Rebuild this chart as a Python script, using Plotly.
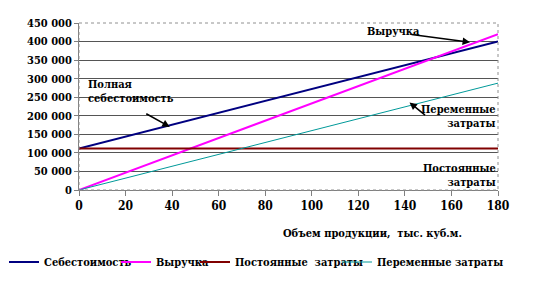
import plotly.graph_objects as go

volume = [0, 180]
cost_total = [112000, 400000]
revenue = [0, 420000]
fixed_costs = [112000, 112000]
variable_costs = [0, 288000]

x_ticks = [0, 20, 40, 60, 80, 100, 120, 140, 160, 180]
y_ticks = [0, 50000, 100000, 150000, 200000, 250000, 300000, 350000, 400000, 450000]
y_labels = ["0", "50 000", "100 000", "150 000", "200 000", "250 000", "300 000", "350 000", "400 000", "450 000"]

FONT = "DejaVu Serif Condensed, DejaVu Serif"
SIZE = 11
fig = go.Figure()
fig.add_trace(go.Scatter(x=volume, y=cost_total, mode="lines", name="Себестоимость",
                         line=dict(color="#000080", width=2), legend="legend"))
fig.add_trace(go.Scatter(x=volume, y=revenue, mode="lines", name="Выручка",
                         line=dict(color="#FF00FF", width=2), legend="legend2"))
fig.add_trace(go.Scatter(x=volume, y=fixed_costs, mode="lines", name="Постоянные  затраты",
                         line=dict(color="#800000", width=2), legend="legend3"))
fig.add_trace(go.Scatter(x=volume, y=variable_costs, mode="lines", name="Переменные затраты",
                         line=dict(color="#009999", width=1), legend="legend4"))

ann_font = dict(family=FONT, size=SIZE, color="black", weight="bold")
annotations = [
    dict(x=168, y=398000, ax=-60, ay=-8, text="", showarrow=True, arrowhead=2, arrowsize=1, arrowwidth=1.5, arrowcolor="black"),
    dict(x=135, y=427000, text="Выручка", showarrow=False, xanchor="center", yanchor="middle", font=ann_font),
    dict(x=39, y=170000, ax=-25, ay=-14, text="", showarrow=True, arrowhead=2, arrowsize=1, arrowwidth=1.5, arrowcolor="black"),
    dict(x=3, y=265000, text="Полная<br>себестоимость", showarrow=False, xanchor="left", yanchor="middle", align="left", font=ann_font),
    dict(x=142, y=236000, ax=17, ay=14, text="", showarrow=True, arrowhead=2, arrowsize=1, arrowwidth=1.5, arrowcolor="black"),
    dict(x=180, y=198000, text="Переменные<br>затраты", showarrow=False, xanchor="right", yanchor="middle", align="right", font=ann_font),
    dict(x=180, y=38000, text="Постоянные<br>затраты", showarrow=False, xanchor="right", yanchor="middle", align="right", font=ann_font),
    dict(x=0.92, y=-0.26, xref="paper", yref="paper", text="Объем продукции,  тыс. куб.м.",
         showarrow=False, xanchor="right", yanchor="middle", font=ann_font),
]

leg_common = dict(orientation="h", xref="container", yref="container", yanchor="middle", xanchor="left",
                  font=dict(family=FONT, size=SIZE, color="black", weight="bold"),
                  itemwidth=30, bgcolor="rgba(0,0,0,0)", y=1 - 262 / 286)

fig.update_layout(
    width=552, height=286,
    margin=dict(l=79, r=54, t=23, b=96, autoexpand=False),
    paper_bgcolor="white", plot_bgcolor="white",
    font=dict(family=FONT, size=SIZE, color="black", weight="bold"),
    showlegend=True,
    legend=dict(leg_common, x=4 / 552),
    legend2=dict(leg_common, x=116 / 552),
    legend3=dict(leg_common, x=195 / 552),
    legend4=dict(leg_common, x=337 / 552),
    annotations=annotations,
)
fig.update_xaxes(range=[0, 180], tickvals=x_ticks,
                 showgrid=False, zeroline=False, showline=True, linecolor="#808080", linewidth=1,
                 ticks="outside", ticklen=5, tickcolor="#808080",
                 tickfont=dict(family=FONT, size=12, weight="bold"))
fig.update_yaxes(range=[0, 450000], tickvals=y_ticks, ticktext=y_labels,
                 showgrid=True, gridcolor="#555555", gridwidth=1, zeroline=False,
                 showline=True, linecolor="#808080", linewidth=1, ticks="outside", ticklen=4,
                 tickcolor="#808080", tickfont=dict(family=FONT, size=11, weight="bold"))
fig.add_shape(type="rect", xref="paper", yref="paper", x0=0, y0=0, x1=1, y1=1,
              line=dict(color="#909090", width=1, dash="dot"))

fig.write_html("out.html")
